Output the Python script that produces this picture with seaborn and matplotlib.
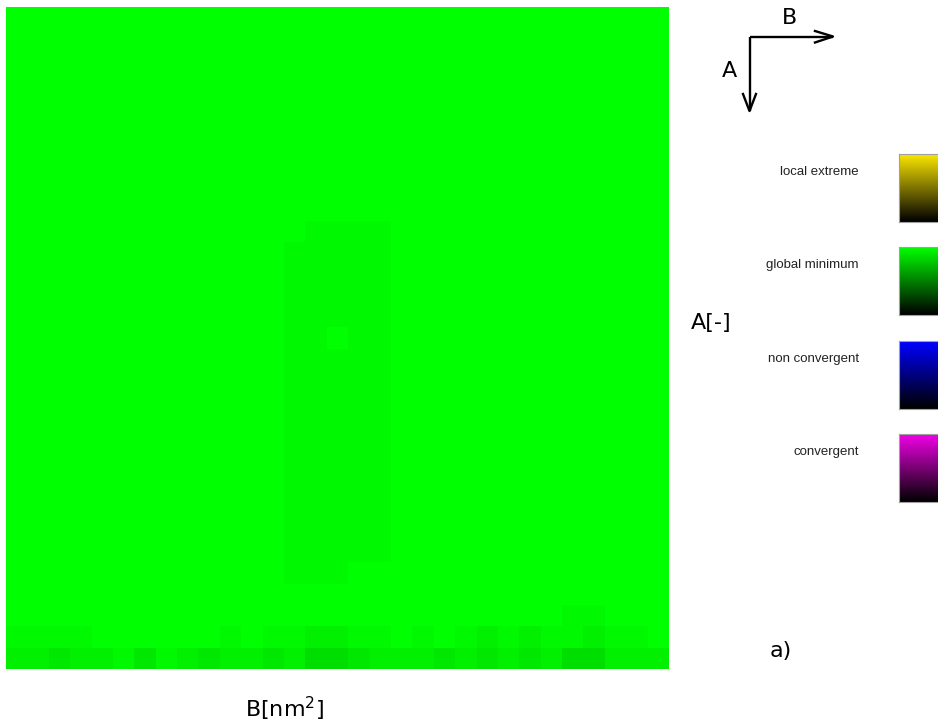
import numpy as np
import pandas as pd
import matplotlib
matplotlib.use("Agg")
import matplotlib.pyplot as plt
from matplotlib.colors import LinearSegmentedColormap, to_rgb
import seaborn as sns

# ---- data: 31 x 31 grid, each char is an intensity level code ----
level_values = [1.00, 0.975, 0.94, 0.905, 0.87]
row_codes = [
    "0000000000000000000000000000000",
    "0000000000000000000000000000000",
    "0000000000000000000000000000000",
    "0000000000000000000000000000000",
    "0000000000000000000000000000000",
    "0000000000000000000000000000000",
    "0000000000000000000000000000000",
    "0000000000000000000000000000000",
    "0000000000000000000000000000000",
    "0000000000000000000000000000000",
    "0000000000000011110000000000000",
    "0000000000000111110000000000000",
    "0000000000000111110000000000000",
    "0000000000000111110000000000000",
    "0000000000000111110000000000000",
    "0000000000000110110000000000000",
    "0000000000000111110000000000000",
    "0000000000000111110000000000000",
    "0000000000000111110000000000000",
    "0000000000000111110000000000000",
    "0000000000000111110000000000000",
    "0000000000000111110000000000000",
    "0000000000000111110000000000000",
    "0000000000000111110000000000000",
    "0000000000000111110000000000000",
    "0000000000000111110000000000000",
    "0000000000000111000000000000000",
    "0000000000000000000000000000000",
    "0000000000000000000000000011000",
    "1111000000101122110101212112110",
    "2232213123223244322232323244222",
]
legend_labels = ["local extreme", "global minimum", "non convergent", "convergent"]
legend_colors = ["#fae600", "#00ff00", "#0000ff", "#f000e6"]
x_label = r"B[nm$^{2}$]"
y_label = "A[-]"
panel_label = "a)"

grid = np.array([[level_values[int(ch)] for ch in row] for row in row_codes])
df = pd.DataFrame(grid)

W, H = 938, 724
fig = plt.figure(figsize=(W / 100, H / 100), dpi=100)
fig.patch.set_facecolor("white")
plt.rcParams["mathtext.fontset"] = "dejavusans"

# heatmap axes: pixel box x 6..669, y 7..669
x0, x1, y0, y1 = 6, 669, 7, 669
ax = fig.add_axes([x0 / W, 1 - y1 / H, (x1 - x0) / W, (y1 - y0) / H])
green_cmap = LinearSegmentedColormap.from_list("gm", ["#000000", "#00ff00"])
sns.heatmap(df, cmap=green_cmap, vmin=0, vmax=1, cbar=False,
            xticklabels=False, yticklabels=False, ax=ax)
ax.set_xlabel("")
ax.set_ylabel("")

# overlay in pixel coordinates
ov = fig.add_axes([0, 0, 1, 1])
ov.set_xlim(0, W)
ov.set_ylim(H, 0)
ov.axis("off")
ov.patch.set_alpha(0)

# direction arrows
lw = 1.7
ov.plot([749.5, 833], [36.5, 36.5], color="black", lw=lw, solid_capstyle="butt")
ov.plot([815, 833, 815], [31, 36.5, 42.5], color="black", lw=lw)
ov.plot([749.5, 749.5], [36.5, 111], color="black", lw=lw, solid_capstyle="butt")
ov.plot([743, 749.5, 756], [94, 111, 94], color="black", lw=lw)
big = dict(family="DejaVu Sans", fontsize=16, color="black")
ov.text(790, 18, "B", ha="center", va="center", **big)
ov.text(729, 71, "A", ha="center", va="center", **big)

# axis labels
ov.text(711, 323, y_label, ha="center", va="center", **big)
ov.text(285, 709, x_label, ha="center", va="center", **big)
ov.text(781, 651, panel_label, ha="center", va="center", **big)

# legend swatches
tops = [154, 247, 341, 434]
sw_h = 68
for lab, col, top in zip(legend_labels, legend_colors, tops):
    rgb = np.array(to_rgb(col))
    frac = np.linspace(1.0, 0.0, 64)[:, None, None]
    grad = frac * rgb[None, None, :]
    ov.imshow(grad, extent=[899, 945, top + sw_h, top], aspect="auto",
              origin="upper", interpolation="bilinear")
    ov.plot([899, 899], [top, top + sw_h], color="#a0a0a0", lw=0.8)
    ov.plot([899, 945], [top, top], color="#a0a0a0", lw=0.8)
    ov.plot([899, 945], [top + sw_h, top + sw_h], color="#a0a0a0", lw=0.8)
    ov.text(859, top + 18, lab, ha="right", va="center",
            family="Liberation Sans", fontsize=9.5, color="#222222")
ov.set_xlim(0, W)
ov.set_ylim(H, 0)

fig.savefig("out.png", dpi=100)
